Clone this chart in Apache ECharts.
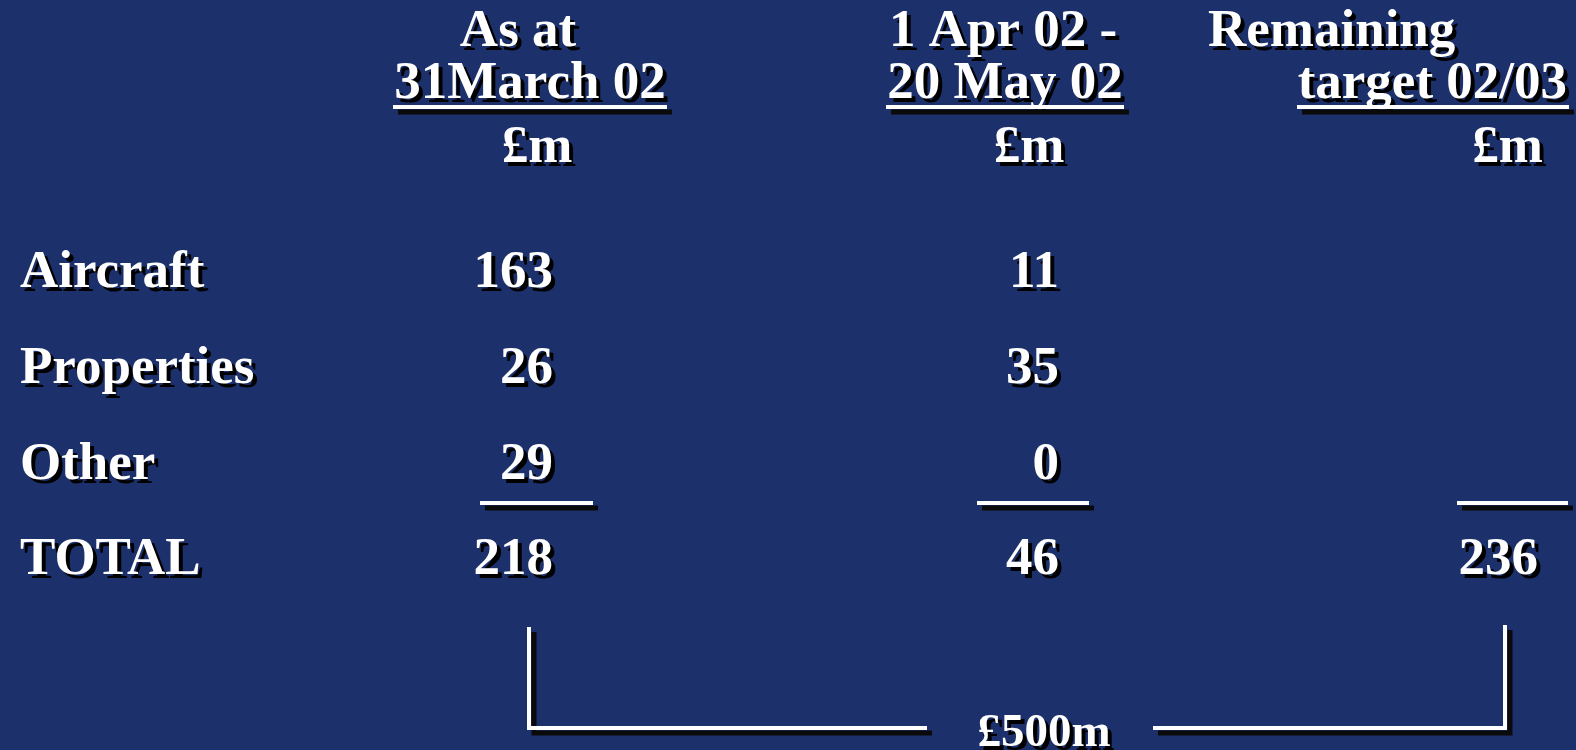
<!DOCTYPE html>
<html>
<head>
<meta charset="utf-8">
<script src="https://cdn.jsdelivr.net/npm/echarts@6/dist/echarts.min.js"></script>
<style>
html, body { margin: 0; padding: 0; background: #1c316b; }
#main { width: 1576px; height: 750px; }
</style>
</head>
<body>
<div id="main"></div>
<script>
// ---- data (from the slide) ----
const rowLabels = ['Aircraft', 'Properties', 'Other', 'TOTAL'];
const asAt31Mar02 = [163, 26, 29, 218];
const apr02To20May02 = [11, 35, 0, 46];
const remainingTarget0203 = [null, null, null, 236];
const headerLines = [
    ['As at', '31March 02', '£m'],
    ['1 Apr 02 -', '20 May 02', '£m'],
    ['Remaining', 'target 02/03', '£m']
];
const bracketLabel = '£500m';

// ---- layout (pixel space of the hidden axes) ----
const FONT = '"Liberation Serif", "Times New Roman", serif';
const SIZE = 53;
const MID = 0.28;          // baseline -> middle, as part of font size
const SHADOW = 4;          // text shadow offset
const LABEL_X = 20;
const ROW_BASE = [288, 384, 480, 575];
const COL_RIGHT = [553, 1059, 1538];
const HEAD_BASE = [47, 99, 163];
const HEAD_POS = [
    [[518, 'center'], [530, 'center'], [537, 'center']],
    [[1003, 'center'], [1005, 'center'], [1029, 'center']],
    [[1208, 'left'], [1567, 'right'], [1543, 'right']]
];
// rules: [x1, x2, y]
const RULES = [
    [393, 667, 107], [886, 1124, 107], [1297, 1569, 107],
    [480, 593, 503], [977, 1089, 503], [1457, 1568, 503]
];
const BRACKETS = [
    [[529, 627], [529, 728], [927, 728]],
    [[1153, 728], [1505, 728], [1505, 625]]
];
const BRACKET_TEXT = [1044, 747, 47];

const chart = echarts.init(document.getElementById('main'));

function textPair(x, y, str, size, align) {
    const font = 'bold ' + size + 'px ' + FONT;
    const yMid = y - MID * size;
    const mk = (d, fill) => ({
        type: 'text',
        x: x + d,
        y: yMid + d,
        style: {
            text: str, font: font, fill: fill,
            align: align, verticalAlign: 'middle',
            textAlign: align, textVerticalAlign: 'middle'
        }
    });
    return { type: 'group', children: [mk(SHADOW, '#000'), mk(0, '#fff')] };
}

function linePair(points) {
    const shade = points.map(p => [p[0] + 5, p[1] + 5]);
    return {
        type: 'group',
        children: [
            { type: 'polyline', shape: { points: shade }, style: { stroke: '#0a0a0a', lineWidth: 5, fill: null, lineJoin: 'miter' } },
            { type: 'polyline', shape: { points: points }, style: { stroke: '#fff', lineWidth: 4, fill: null, lineJoin: 'miter' } }
        ]
    };
}

const series = [];

// row labels
series.push({
    type: 'custom',
    dimensions: ['row'],
    data: rowLabels.map((n, i) => [i]),
    renderItem: (params, api) => {
        const i = api.value(0);
        const p = api.coord([LABEL_X, ROW_BASE[i]]);
        return textPair(p[0], p[1], rowLabels[i], SIZE, 'left');
    }
});

// value columns
[asAt31Mar02, apr02To20May02, remainingTarget0203].forEach((col, c) => {
    const items = [];
    col.forEach((v, i) => { if (v != null) items.push([i, v]); });
    series.push({
        type: 'custom',
        dimensions: ['row', 'value'],
        data: items,
        renderItem: (params, api) => {
            const i = api.value(0);
            const p = api.coord([COL_RIGHT[c], ROW_BASE[i]]);
            return textPair(p[0], p[1], String(api.value(1)), SIZE, 'right');
        }
    });
});

// column headers
const headItems = [];
headerLines.forEach((lines, c) => lines.forEach((t, k) => headItems.push([c, k])));
series.push({
    type: 'custom',
    dimensions: ['col', 'line'],
    data: headItems,
    renderItem: (params, api) => {
        const c = api.value(0), k = api.value(1);
        const pos = HEAD_POS[c][k];
        const p = api.coord([pos[0], HEAD_BASE[k]]);
        return textPair(p[0], p[1], headerLines[c][k], SIZE, pos[1]);
    }
});

// underlines
series.push({
    type: 'custom',
    dimensions: ['idx'],
    data: RULES.map((r, i) => [i]),
    renderItem: (params, api) => {
        const r = RULES[api.value(0)];
        return linePair([api.coord([r[0], r[2]]), api.coord([r[1], r[2]])]);
    }
});

// bracket + label
series.push({
    type: 'custom',
    dimensions: ['idx'],
    data: [[0]],
    renderItem: (params, api) => {
        const kids = BRACKETS.map(b => linePair(b.map(p => api.coord(p))));
        const t = api.coord([BRACKET_TEXT[0], BRACKET_TEXT[1]]);
        kids.push(textPair(t[0], t[1], bracketLabel, BRACKET_TEXT[2], 'center'));
        return { type: 'group', children: kids };
    }
});

chart.setOption({
    backgroundColor: '#1c316b',
    animation: false,
    grid: { left: 0, right: 0, top: 0, bottom: 0 },
    xAxis: { type: 'value', min: 0, max: 1576, show: false },
    yAxis: { type: 'value', min: 0, max: 750, inverse: true, show: false },
    series: series
});
</script>
</body>
</html>
